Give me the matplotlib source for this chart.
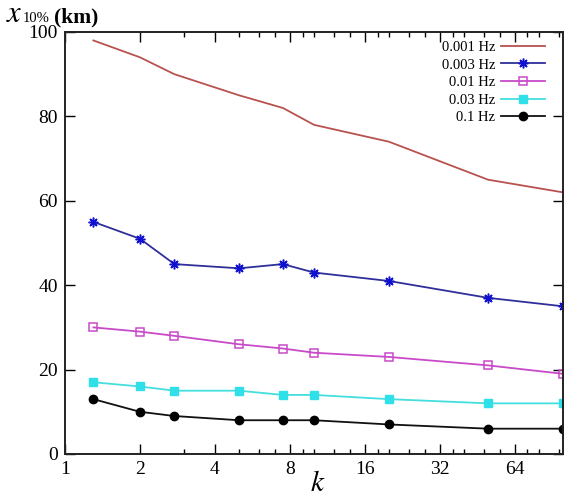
import matplotlib
matplotlib.use("Agg")
import matplotlib.pyplot as plt
from matplotlib.ticker import FixedLocator, NullFormatter

plt.rcParams['font.family'] = ['Liberation Serif', 'DejaVu Serif']
plt.rcParams['mathtext.fontset'] = 'stix'

k = [1.3, 2, 2.75, 5, 7.5, 10, 20, 50, 100]
f0001 = [98, 94, 90, 85, 82, 78, 74, 65, 62]
f0003 = [55, 51, 45, 44, 45, 43, 41, 37, 35]
f001 = [30, 29, 28, 26, 25, 24, 23, 21, 19]
f003 = [17, 16, 15, 15, 14, 14, 13, 12, 12]
f01 = [13, 10, 9, 8, 8, 8, 7, 6, 6]
labels = ['0.001 Hz', '0.003 Hz', '0.01 Hz', '0.03 Hz', '0.1 Hz']
xticks = [1, 2, 4, 8, 16, 32, 64]
xminor = [3, 5, 6, 7, 9, 10, 12, 14, 18, 20, 24, 28, 36, 40, 48, 56, 72, 80, 96]
yticks = [0, 20, 40, 60, 80, 100]

fig = plt.figure(figsize=(5.66, 4.96), dpi=100)
ax = fig.add_axes([65/566, 1-454/496, (563-65)/566, (454-32)/496])

ax.plot(k, f0001, color='#b8524f', lw=1.3, label=labels[0])
ax.plot(k, f0003, color='#2f2f9a', lw=1.3, marker=(8, 2, 0), ms=7, mec='#1010d0', mew=1.1, label=labels[1])
ax.plot(k, f001, color='#c94ac9', lw=1.3, marker='s', ms=6, mfc='none', mec='#c94ac9', mew=1.1, label=labels[2])
ax.plot(k, f003, color='#44dede', lw=1.3, marker='s', ms=6, mfc='#2fe0e8', mec='#2fe0e8', label=labels[3])
ax.plot(k, f01, color='#111111', lw=1.3, marker='o', ms=6, mfc='black', mec='black', label=labels[4])

ax.set_xscale('log', base=2)
ax.set_xlim(1, 100)
ax.set_ylim(0, 100)
ax.xaxis.set_major_locator(FixedLocator(xticks))
ax.set_xticklabels([str(t) for t in xticks])
ax.xaxis.set_minor_locator(FixedLocator(xminor))
ax.xaxis.set_minor_formatter(NullFormatter())
ax.set_yticks(yticks)
ax.tick_params(which='both', direction='in', top=True, right=True, labelsize=14, width=1.0)
ax.tick_params(which='major', length=7)
ax.tick_params(which='minor', length=3.5)
ax.tick_params(axis='x', pad=5)
ax.tick_params(axis='y', pad=5)
for s in ax.spines.values():
    s.set_linewidth(1.4)
    s.set_color('#222222')

fig.text(318/566, 1-484/496, '$k$', fontsize=21, va='center', ha='center')
fig.text(6/566, 1-22/496, '$x$', fontsize=22, va='baseline', ha='left')
fig.text(23/566, 1-22/496, '10%', fontsize=10.5, va='baseline', ha='left')
fig.text(54/566, 1-22/496, '(km)', fontsize=15.5, fontweight='bold', va='baseline', ha='left')

leg = ax.legend(loc='upper right', bbox_to_anchor=(0.975, 0.993), frameon=False, markerfirst=False,
                fontsize=10.5, handlelength=3.0, labelspacing=0.3, handletextpad=0.4, borderaxespad=0.0)

fig.savefig('out.png', dpi=100)
